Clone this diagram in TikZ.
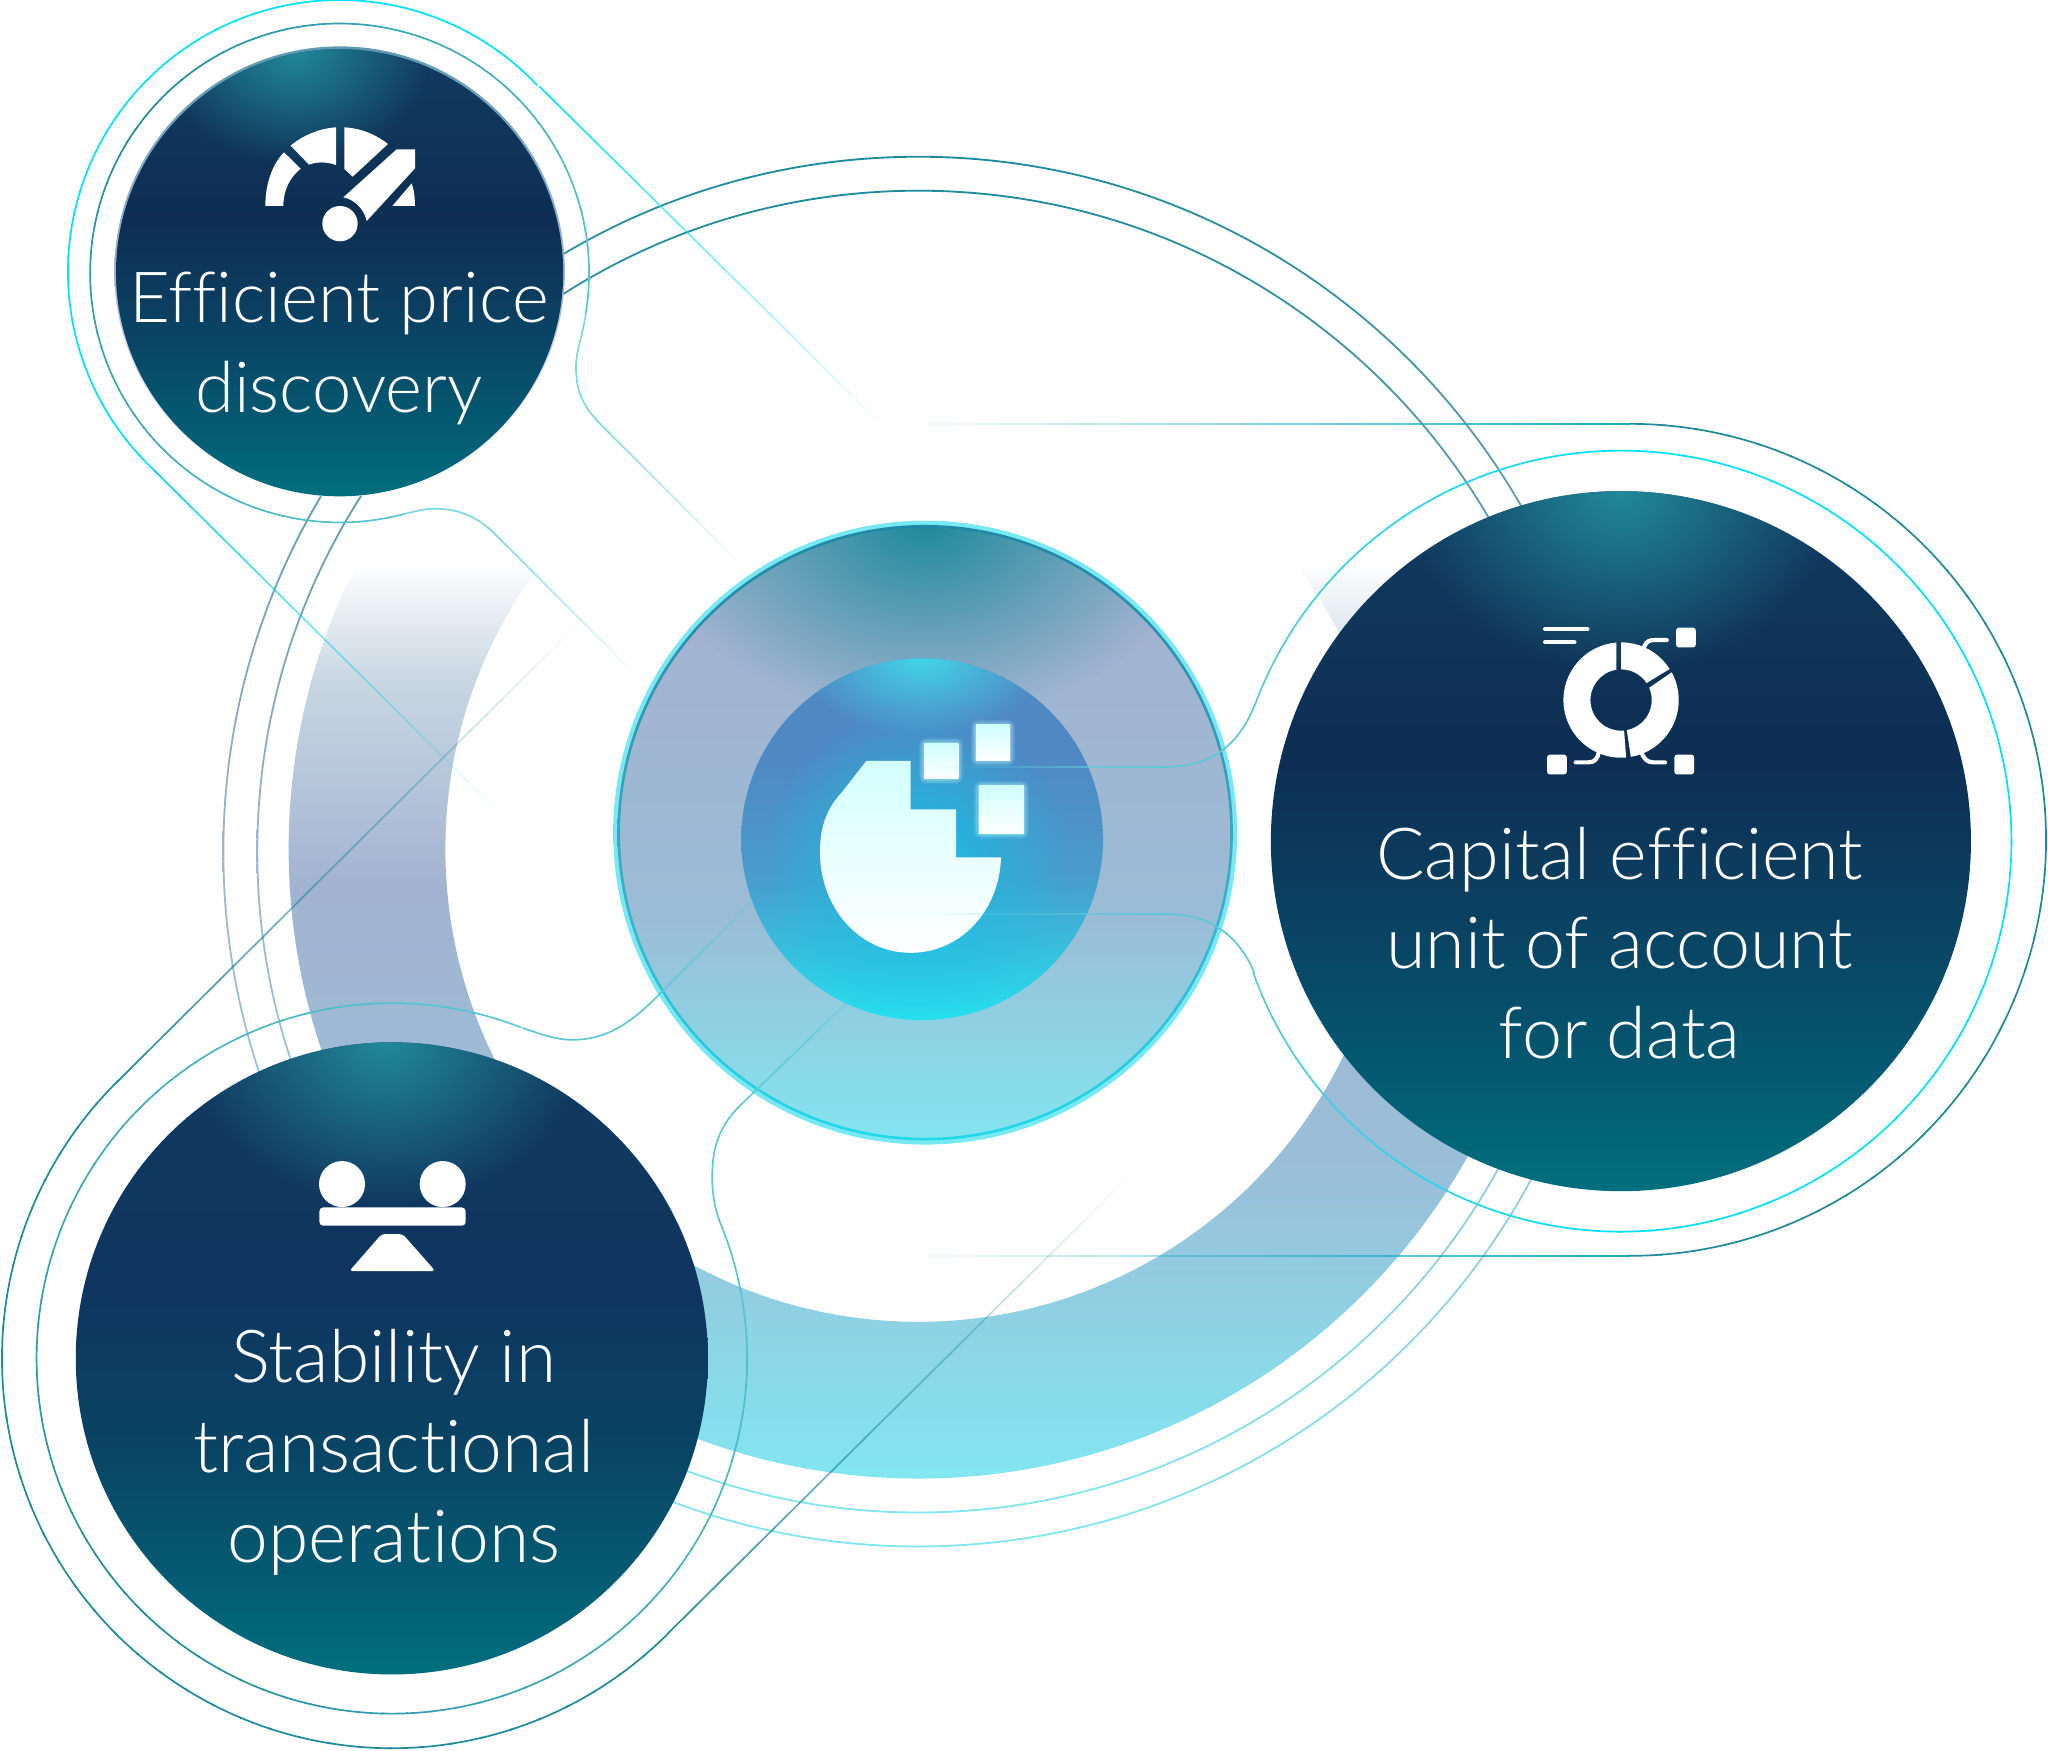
\documentclass[tikz,border=0pt]{standalone}
\usepackage{fontspec}
\setmainfont[RawFeature={-liga;-dlig;-clig}]{Lato Light}
\usetikzlibrary{fadings}
\definecolor{Dbot}{HTML}{006F7E}
\definecolor{Dlow}{HTML}{045A72}
\definecolor{Dhalf}{HTML}{0A4263}
\definecolor{Dmid}{HTML}{0E2E53}
\definecolor{Dmidb}{HTML}{0F3560}
\definecolor{Dtop}{HTML}{123A60}
\definecolor{Dglow}{HTML}{21899A}
\definecolor{BandB}{HTML}{82E6F0}
\definecolor{BandL}{HTML}{9ABFD9}
\definecolor{BandM}{HTML}{A2B3D1}
\definecolor{BandU}{HTML}{C9D7E3}
\definecolor{RingT}{HTML}{1E8A9C}
\definecolor{RingL}{HTML}{5FC8D8}
\definecolor{RingX}{HTML}{7FD8E4}
\definecolor{Cyan}{HTML}{00E0FF}
\definecolor{CDmid}{HTML}{9BBCD6}
\definecolor{IDtop}{HTML}{5088C4}
\definecolor{IDbot}{HTML}{25E0EF}
\definecolor{IDmid}{HTML}{4A9CCB}
\definecolor{IDglow}{HTML}{42D5E8}
\definecolor{LogoGlow}{HTML}{18BEE4}
\definecolor{SqGlow}{HTML}{B8F2FB}
\definecolor{RimT}{HTML}{5F9AB0}
\pgfdeclareverticalshading{bandS}{100bp}{color(0bp)=(BandB);color(25bp)=(BandB);color(37bp)=(BandL);color(48.45bp)=(BandM);color(56.75bp)=(BandU);color(61.4bp)=(white);color(100bp)=(white)}
\pgfdeclareverticalshading{ringS}{100bp}{color(0bp)=(BandB);color(25bp)=(BandB);color(50bp)=(BandM);color(75bp)=(RingT);color(100bp)=(RingT)}
\pgfdeclareverticalshading{discA}{100bp}{color(0bp)=(Dbot);color(25bp)=(Dbot);color(33bp)=(Dlow);color(44bp)=(Dhalf);color(56bp)=(Dmid);color(75bp)=(Dtop);color(100bp)=(Dtop)}
\pgfdeclareverticalshading{discB}{100bp}{color(0bp)=(Dbot);color(25bp)=(Dbot);color(33bp)=(Dlow);color(44bp)=(Dhalf);color(56bp)=(Dmidb);color(75bp)=(Dtop);color(100bp)=(Dtop)}
\pgfdeclareverticalshading{centerS}{100bp}{color(0bp)=(BandB);color(25bp)=(BandB);color(43.5bp)=(CDmid);color(66.5bp)=(BandM);color(100bp)=(BandM)}
\pgfdeclareverticalshading{innerS}{100bp}{color(0bp)=(IDbot);color(25bp)=(IDbot);color(45bp)=(IDmid);color(62bp)=(IDtop);color(100bp)=(IDtop)}
\pgfdeclareverticalshading{rimS}{100bp}{color(0bp)=(white);color(25bp)=(white);color(50bp)=(BandM);color(75bp)=(RimT);color(100bp)=(RimT)}
\definecolor{CRingB}{HTML}{22D8EA}
\definecolor{CRingT}{HTML}{1E88A5}
\definecolor{CRingM}{HTML}{3FA5BE}
\definecolor{CRingO}{HTML}{78E8F2}
\pgfdeclareverticalshading{cringS}{100bp}{color(0bp)=(CRingB);color(25bp)=(CRingB);color(50bp)=(CRingM);color(75bp)=(CRingT);color(100bp)=(CRingT)}
\tikzfading[name=rglow, inner color=transparent!0, outer color=transparent!100]
\tikzset{
  thinline/.style={line width=1.3pt},
  bigtext/.style={text=white,align=center,font=\fontsize{55}{68.7}\selectfont,inner sep=0pt},
  iconfill/.style={fill=white,draw=none},
}
\newcommand\garc[7]{% cx cy r a0 a1 colA colB
  \foreach \i in {1,...,40}{%
    \pgfmathsetmacro\aa{#4+(\i-1)/40*(#5-#4)}%
    \pgfmathsetmacro\ab{#4+(\i+0.1)/40*(#5-#4)}%
    \pgfmathsetmacro\mx{100*(\i-0.5)/40}%
    \draw[thinline,color=#7!\mx!#6] (#1,#2) ++(\aa:#3) arc[start angle=\aa,end angle=\ab,radius=#3];
  }%
}
\newcommand\gline[7]{% ax ay bx by col o0 o1
  \foreach \i in {1,...,30}{%
    \pgfmathsetmacro\xa{#1+(\i-1)/30*(#3-#1)}%
    \pgfmathsetmacro\ya{#2+(\i-1)/30*(#4-#2)}%
    \pgfmathsetmacro\xb{#1+\i/30*(#3-#1)}%
    \pgfmathsetmacro\yb{#2+\i/30*(#4-#2)}%
    \pgfmathsetmacro\op{#6+(\i-0.5)/30*(#7-#6)}%
    \draw[thinline,color=#5,opacity=\op] (\xa,\ya) -- (\xb,\yb);
  }%
}
\newcommand\nodedisc[5]{% cx cy r shading glow-dx
  \begin{scope}
    \clip (#1,#2) circle[radius=#3];
    \shade[shading=#4] (#1,#2) circle[radius=#3];
    \fill[Dglow,path fading=rglow] (#1+#5,#2-#3) ellipse[x radius=0.62*#3,y radius=0.52*#3];
  \end{scope}
}
\begin{document}
\begin{tikzpicture}[x=1pt,y=-1pt]
\useasboundingbox (0,0) rectangle (1568,1340.6);
% band
\shade[shading=bandS,even odd rule] (703,650) circle[radius=482] (703,650) circle[radius=362];
% big thin circles
\shade[shading=ringS,even odd rule] (703,652) circle[radius=532.7] (703,652) circle[radius=531.3];
\shade[shading=ringS,even odd rule] (703,652) circle[radius=506.7] (703,652) circle[radius=505.3];
% centre disc
\begin{scope}
  \clip (708.3,637.5) circle[radius=238.5];
  \shade[shading=centerS] (708.3,637.5) circle[radius=238.5];
  \fill[RingT,path fading=rglow] (708,400) ellipse[x radius=210,y radius=150];
\end{scope}
\fill[CRingO,even odd rule] (708.3,637.5) circle[radius=238.8] (708.3,637.5) circle[radius=234.5];
\shade[shading=cringS,even odd rule] (708.3,637.5) circle[radius=235.6] (708.3,637.5) circle[radius=233.6];
% inner disc
\begin{scope}
  \clip (706,642.5) circle[radius=138.5];
  \shade[shading=innerS] (706,642.5) circle[radius=138.5];
  \fill[IDglow,path fading=rglow] (706,504) ellipse[x radius=95,y radius=60];
  \fill[LogoGlow,path fading=rglow] (702,660) circle[radius=118];
\end{scope}
% logo
\foreach \w/\o in {8/0.10,6/0.14,4/0.18,2/0.25}{
  \draw[color=SqGlow,opacity=\o,line width=\w,rounded corners=2pt] (707.5,568.9) rectangle (733.7,596.4);
  \draw[color=SqGlow,opacity=\o,line width=\w,rounded corners=2pt] (747.1,555) rectangle (773.3,582.5);
  \draw[color=SqGlow,opacity=\o,line width=\w,rounded corners=2pt] (749.4,601.6) rectangle (783.9,638.1);
}
\shade[top color=cyan!18,bottom color=white] (707.5,568.9) rectangle (733.7,596.4);
\shade[top color=cyan!18,bottom color=white] (747.1,555) rectangle (773.3,582.5);
\shade[top color=cyan!18,bottom color=white] (749.4,601.6) rectangle (783.9,638.1);
\shade[top color=cyan!17,bottom color=white]
  (663.3,582.5) -- (697.2,582.5) -- (697.2,619.6) -- (732,619.6) -- (732,656.5) -- (766.4,656.5)
  .. controls (765,698) and (735,729.5) .. (697.2,729.5)
  .. controls (658,729.5) and (627.8,695) .. (627.8,652.4)
  .. controls (627.8,631) and (634,618) .. (644.7,606.4) -- cycle;
% Efficient rings
\garc{260}{208}{208}{316.7}{133}{Cyan}{Cyan}
\gline{412.8}{66}{680}{330}{Cyan}{1}{0}
\gline{118}{360}{385}{625}{Cyan!80!RingT}{1}{0}
\garc{260}{209}{191}{74.9}{215}{RingL}{RingT}
\garc{260}{209}{191}{215}{369.3}{RingT}{RingL}
\draw[thinline,color=RingX] (448.5,240) .. controls (446,258) and (441,268) .. (441,281) .. controls (441,300) and (447,312) .. (460,325);
\gline{460}{325}{570}{435}{RingX}{1}{0}
\draw[thinline,color=RingX] (309.5,393.5) .. controls (320,391) and (325,389.5) .. (333,389.5) .. controls (350,389.5) and (365,395) .. (378,408);
\gline{378}{408}{490}{520}{RingX}{1}{0}
% Capital rings
\garc{1241}{644}{299}{200.3}{270}{RingL}{Cyan}
\garc{1241}{644}{299}{270}{450}{Cyan}{Cyan}
\garc{1241}{644}{299}{450}{520.2}{Cyan}{RingL}
\draw[thinline,color=RingL] (960.5,540) .. controls (948,572) and (925,587) .. (895,587);
\gline{895}{587}{715}{587}{RingL}{1}{0}
\draw[thinline,color=RingL] (960.5,745) .. controls (948,715) and (925,700) .. (895,700);
\gline{895}{700}{715}{700}{RingL}{1}{0}
\garc{1248}{643}{318.5}{270}{450}{RingT}{RingT}
\gline{1248}{324.5}{690}{324.5}{RingT!60!Cyan}{1}{0}
\gline{1248}{961.5}{690}{961.5}{RingT!60!Cyan}{1}{0}
% Stability rings
\garc{300}{1040}{298.5}{45}{225}{RingT}{RingT}
\gline{511}{1251}{865}{900}{RingT}{1}{0}
\gline{89}{829}{445}{475}{RingT}{1}{0}
\garc{300}{1040}{272}{291.4}{135}{RingL}{RingT}
\garc{300}{1040}{272}{135}{-22.6}{RingT}{RingL}
\draw[thinline,color=RingL] (400,787) .. controls (415,792) and (428,797) .. (442,796) .. controls (465,795) and (483,783) .. (501,765);
\gline{501}{765}{575}{691}{RingL}{1}{0.3}
\draw[thinline,color=RingL] (551,935) .. controls (546,922) and (544,905) .. (546,888) .. controls (548,870) and (556,857) .. (566,847);
\gline{566}{847}{648}{768}{RingL}{1}{0.45}
% node discs
\shade[shading=rimS] (260,208) circle[radius=172.5];
\nodedisc{260}{208.8}{171.2}{discA}{-35}
\nodedisc{1241}{644}{268}{discA}{0}
\nodedisc{300}{1040}{242}{discB}{-5}
% gauge icon
\begin{scope}[shift={(183.75,76.56)},x=0.2552pt,y=-0.2552pt]
  \fill[iconfill] (76,318) -- (130,318) .. controls (130,270) and (150,232) .. (182,206) -- (132,157) .. controls (95,195) and (76,255) .. (76,318) -- cycle;
  \fill[iconfill] (152,137) .. controls (190,105) and (240,85) .. (288,82) -- (288,195) .. controls (260,185) and (230,185) .. (207,194) -- cycle;
  \fill[iconfill] (313,82) .. controls (365,85) and (410,105) .. (444,132) -- (338,230) -- (313,207) -- cycle;
  \fill[iconfill] (470,148) -- (525,148) -- (525,205) -- (380,363) .. controls (375,335) and (350,300) .. (310,292) -- cycle;
  \fill[iconfill] (515,250) .. controls (522,270) and (525,295) .. (525,318) -- (457,318) -- cycle;
  \fill[iconfill] (300,371) circle[radius=53];
\end{scope}
% balance icon
\begin{scope}[shift={(214.4,865.2)},x=0.2552pt,y=-0.2552pt]
  \fill[iconfill] (186,162) circle[radius=69];
  \fill[iconfill] (488,162) circle[radius=69];
  \fill[iconfill,rounded corners=3pt] (118,232) rectangle (557,287);
  \fill[iconfill,rounded corners=2.5pt] (305,312) -- (368,312) -- (466,423) -- (208,423) -- cycle;
\end{scope}
% donut icon
\begin{scope}[shift={(1148.5,459.4)},x=0.2552pt,y=-0.2552pt]
  \begin{scope}[shift={(363,300)}]
    \fill[iconfill] (265.3:173) arc[start angle=265.3,end angle=85,radius=173] -- (84.4:92) arc[start angle=84.4,end angle=261.3,radius=92] -- cycle;
    \fill[iconfill] (80.3:173) arc[start angle=80.3,end angle=-28.7,radius=173] -- (-23.6:92) arc[start angle=-23.6,end angle=79.3,radius=92] -- cycle;
    \fill[iconfill] (270:173) arc[start angle=270,end angle=327.4,radius=173] -- (326.3:92) arc[start angle=326.3,end angle=270,radius=92] -- cycle;
  \end{scope}
  \draw[draw=white,line width=3.2pt,line cap=round] (135,87) -- (262,87);
  \draw[draw=white,line width=3.2pt,line cap=round] (135,127) -- (223,127);
  \fill[iconfill,rounded corners=2pt] (528,83) rectangle (587,142);
  \fill[iconfill,rounded corners=2pt] (141,464) rectangle (200,523);
  \fill[iconfill,rounded corners=2pt] (523,464) rectangle (582,523);
  \draw[draw=white,line width=3.2pt,line cap=round] (432,140) .. controls (440,122) and (450,120) .. (465,120) -- (500,120);
  \draw[draw=white,line width=3.2pt,line cap=round] (227,487) -- (265,487) .. controls (285,487) and (292,475) .. (296,458);
  \draw[draw=white,line width=3.2pt,line cap=round] (495,487) -- (460,487) .. controls (440,487) and (432,475) .. (425,460);
\end{scope}
% labels
\node[bigtext,font=\fontsize{54}{68.7}\selectfont] (efficient) at (259.5,267) {Efficient price\\discovery};
\node[bigtext] (capital) at (1240,722) {Capital efficient\\unit of account\\for data};
\node[bigtext,font=\fontsize{56}{68.7}\selectfont] (stability) at (301.5,1112) {Stability in\\transactional\\operations};
\end{tikzpicture}
\end{document}
